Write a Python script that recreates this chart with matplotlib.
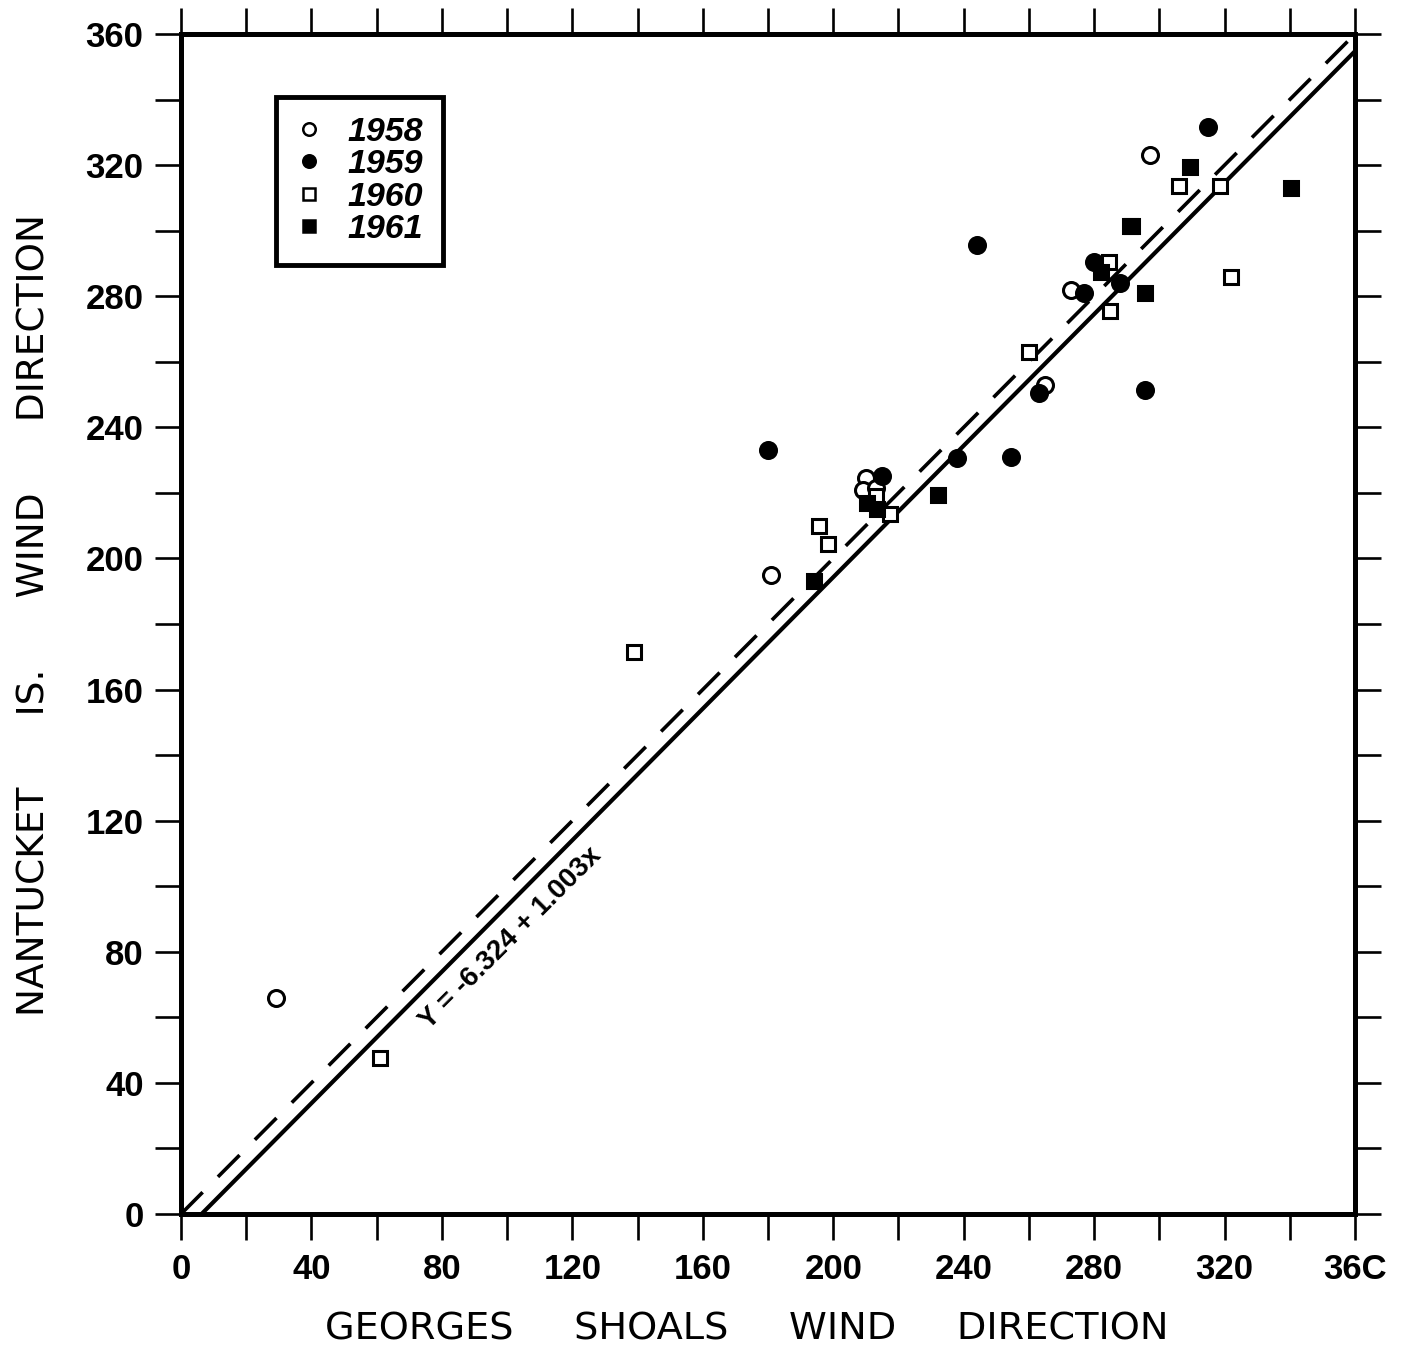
import matplotlib
matplotlib.use("Agg")
import matplotlib.pyplot as plt
from matplotlib.lines import Line2D
import numpy as np

# ---- data ----
x1958 = [29, 181, 210, 209, 213, 273, 265, 297]
y1958 = [66, 195, 224.5, 221, 221.5, 282, 253, 323]

x1959 = [180, 215, 238, 244, 254.5, 263, 277, 280, 288, 295.5, 315]
y1959 = [233, 225, 230.5, 295.5, 231, 250.5, 281, 290.5, 284, 251.5, 331.5]

x1960 = [61, 139, 195.5, 198.5, 213, 217.5, 260, 284.5, 285, 291, 306, 318.5, 322]
y1960 = [47.5, 171.5, 210, 204.5, 219, 213.5, 263, 290.5, 275.5, 301.5, 313.5, 313.5, 286]

x1961 = [194, 210.5, 213.5, 232, 282, 291.5, 295.5, 309.5, 340.5]
y1961 = [193, 217, 215, 219.5, 287.5, 301.5, 281, 319.5, 313]

fit_intercept = -6.324
fit_slope = 1.003
years = ["1958", "1959", "1960", "1961"]
major_ticks = [0, 40, 80, 120, 160, 200, 240, 280, 320, 360]
xtick_labels = ["0", "40", "80", "120", "160", "200", "240", "280", "320", "36C"]
ytick_labels = ["0", "40", "80", "120", "160", "200", "240", "280", "320", "360"]

fig = plt.figure(figsize=(14.05, 13.55), dpi=100)
ax = fig.add_axes([181/1405, 1 - 1214/1355, (1355-181)/1405, (1214-34)/1355])
ax.set_xlim(0, 360)
ax.set_ylim(0, 360)

# lines
xs = np.array([0, 360])
ax.plot(xs, xs, color="black", lw=2.6, ls=(0, (8.5, 6)), zorder=2)
ax.plot(xs, fit_intercept + fit_slope * xs, color="black", lw=3.0, zorder=2)

ms = 11.5
mew = 2.2
ax.plot(x1958, y1958, ls="none", marker="o", ms=ms, mfc="white", mec="black", mew=mew, zorder=3)
ax.plot(x1959, y1959, ls="none", marker="o", ms=ms, mfc="black", mec="black", mew=mew, zorder=3)
ax.plot(x1960, y1960, ls="none", marker="s", ms=ms - 1.5, mfc="white", mec="black", mew=mew, zorder=3)
ax.plot(x1961, y1961, ls="none", marker="s", ms=ms - 1.5, mfc="black", mec="black", mew=mew, zorder=3)

# equation text
ax.text(101, 84, "Y = -6.324 + 1.003x", rotation=45, rotation_mode="anchor",
        ha="center", va="center", fontsize=20, fontweight="bold",
        family="Liberation Sans", transform=ax.transData)

# ticks
ax.set_xticks(major_ticks)
ax.set_yticks(major_ticks)
ax.set_xticklabels(xtick_labels)
ax.set_yticklabels(ytick_labels)
ax.set_xticks(np.arange(20, 360, 40), minor=True)
ax.set_yticks(np.arange(20, 360, 40), minor=True)
for which in ("major", "minor"):
    ax.tick_params(axis="both", which=which, direction="out", length=19, width=1.9,
                   top=True, right=True, bottom=True, left=True)
ax.tick_params(axis="x", which="major", labelsize=25, pad=9)
ax.tick_params(axis="y", which="major", labelsize=25, pad=8)
for lab in ax.get_xticklabels() + ax.get_yticklabels():
    lab.set_fontweight("bold")
    lab.set_family("Liberation Sans")
for sp in ax.spines.values():
    sp.set_linewidth(3.6)

ax.set_xlabel("GEORGES     SHOALS     WIND     DIRECTION", fontsize=27.5, va="center")
ax.xaxis.set_label_coords(0.482, -0.0983)
ax.set_ylabel("NANTUCKET      IS.      WIND      DIRECTION", fontsize=27, va="center")
ax.yaxis.set_label_coords(-0.1244, 0.5076)

# legend
handles = [
    Line2D([], [], ls="none", marker="o", ms=9, mfc="white", mec="black", mew=1.8),
    Line2D([], [], ls="none", marker="o", ms=9, mfc="black", mec="black", mew=1.8),
    Line2D([], [], ls="none", marker="s", ms=8, mfc="white", mec="black", mew=1.8),
    Line2D([], [], ls="none", marker="s", ms=8, mfc="black", mec="black", mew=1.8),
]
leg = ax.legend(handles, years, loc="upper left", bbox_to_anchor=(0.081, 0.947),
                fancybox=False, edgecolor="black", framealpha=1,
                prop={"size": 24.5, "style": "italic", "weight": "bold",
                      "family": "Liberation Sans"},
                handlelength=0.75, handletextpad=0.75, labelspacing=0.04,
                borderpad=0.6, borderaxespad=0)
leg.get_frame().set_linewidth(3.5)

fig.savefig("out.png", dpi=100)
